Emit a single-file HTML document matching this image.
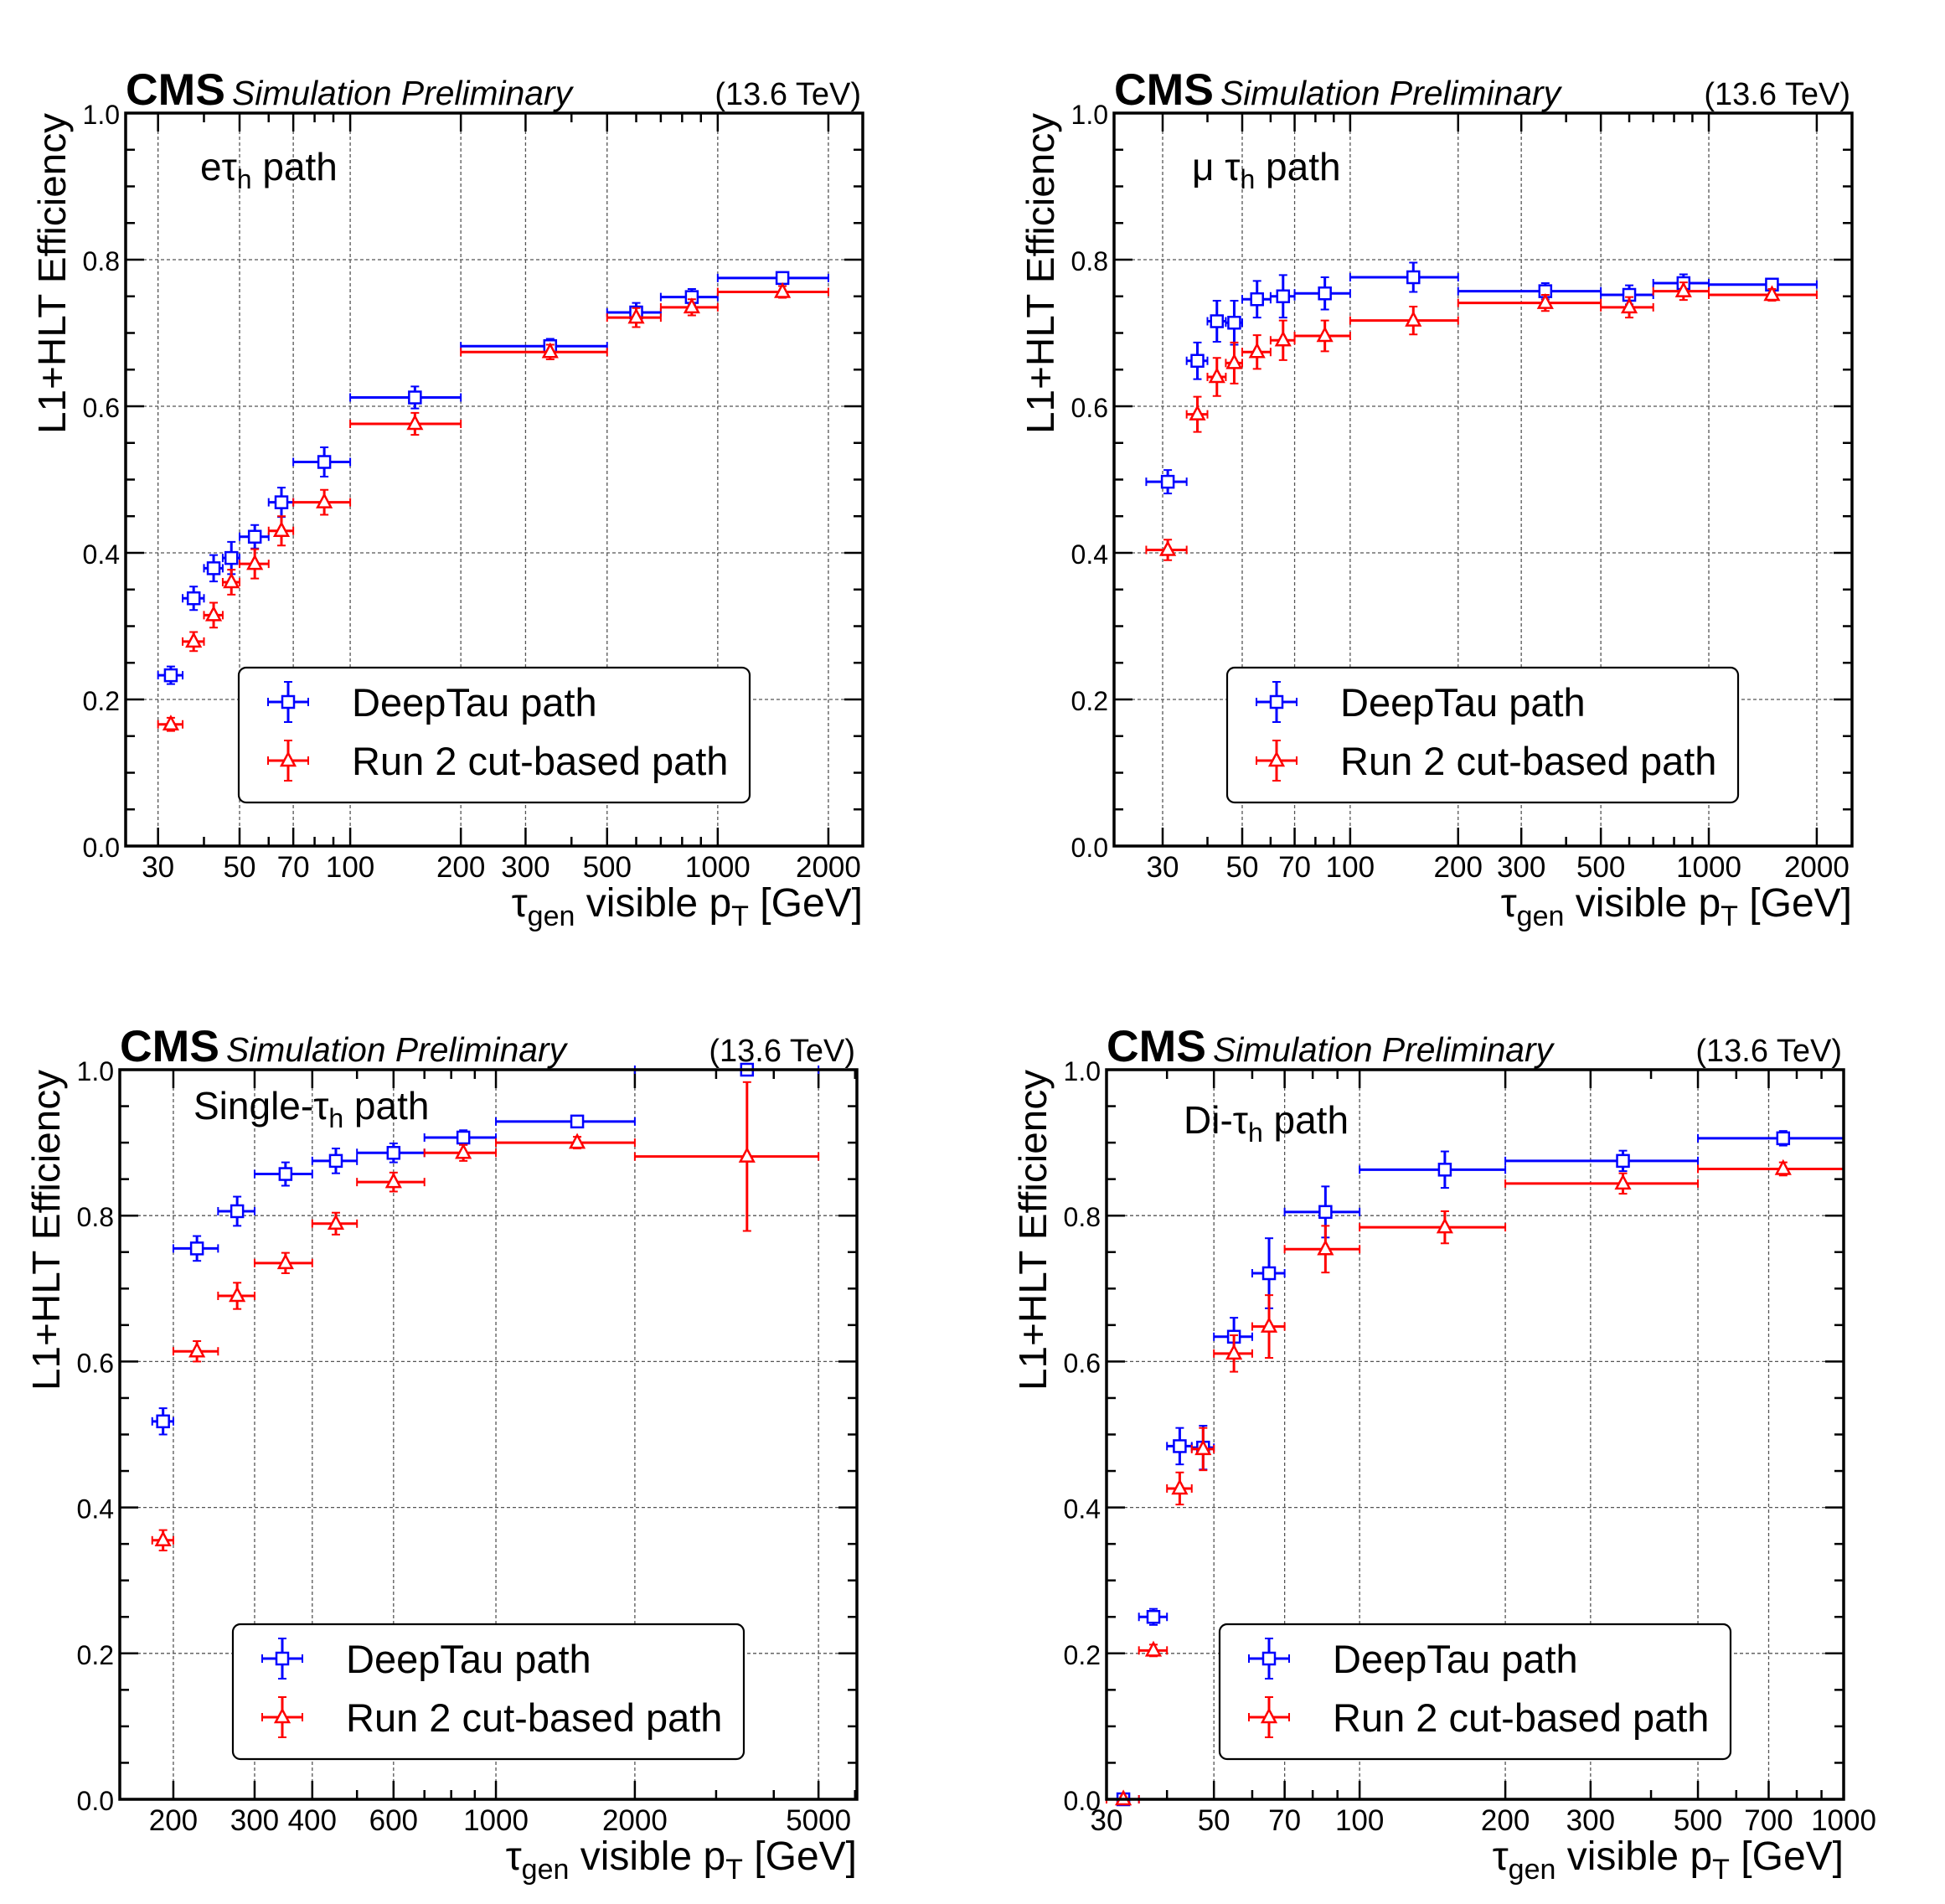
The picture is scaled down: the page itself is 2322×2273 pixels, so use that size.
<!DOCTYPE html>
<html><head><meta charset="utf-8"><title>CMS L1+HLT efficiency</title>
<style>html,body{margin:0;padding:0;background:#fff}svg{display:block}text{font-family:"Liberation Sans",Arial,sans-serif}</style>
</head><body>
<svg id="fig" width="2322" height="2273" viewBox="0 0 2322 2273" xmlns="http://www.w3.org/2000/svg"></svg>
<script>
// ---------- data: e-tau path ----------
const etauBinLo = [30,35,40,45,50,60,70,100,200,500,700,1000];
const etauBinHi = [35,40,45,50,60,70,100,200,500,700,1000,2000];
const etauDeepY = [0.233,0.338,0.379,0.393,0.422,0.469,0.524,0.612,0.682,0.728,0.749,0.775];
const etauDeepErr = [0.012,0.016,0.018,0.022,0.016,0.02,0.02,0.015,0.01,0.013,0.011,0.008];
const etauRun2Y = [0.166,0.279,0.315,0.360,0.385,0.430,0.469,0.576,0.674,0.721,0.735,0.756];
const etauRun2Err = [0.009,0.013,0.017,0.017,0.02,0.02,0.017,0.015,0.01,0.013,0.011,0.008];
// ---------- data: mu-tau path ----------
const mutauBinLo = [27,35,40,45,50,60,70,100,200,500,700,1000];
const mutauBinHi = [35,40,45,50,60,70,100,200,500,700,1000,2000];
const mutauDeepY = [0.497,0.662,0.716,0.714,0.746,0.750,0.754,0.776,0.757,0.752,0.768,0.766];
const mutauDeepErr = [0.016,0.025,0.028,0.030,0.025,0.029,0.022,0.020,0.011,0.013,0.012,0.007];
const mutauRun2Y = [0.404,0.589,0.640,0.659,0.674,0.690,0.696,0.717,0.741,0.735,0.757,0.752];
const mutauRun2Err = [0.014,0.024,0.026,0.028,0.023,0.027,0.021,0.019,0.011,0.014,0.012,0.008];
// ---------- data: single-tau path ----------
const singleBinLo = [180,200,250,300,400,500,700,1000,2000];
const singleBinHi = [200,250,300,400,500,700,1000,2000,5000];
const singleDeepY = [0.518,0.755,0.806,0.857,0.875,0.886,0.907,0.929,1.0];
const singleDeepErr = [0.018,0.017,0.020,0.016,0.017,0.013,0.010,0.005,0.004];
const singleRun2Y = [0.355,0.614,0.690,0.735,0.789,0.846,0.886,0.900,0.881];
const singleRun2Err = [0.014,0.014,0.018,0.014,0.015,0.013,0.011,0.008,0.102];
// ---------- data: di-tau path ----------
const ditauBinLo = [30,35,40,45,50,60,70,100,200,500];
const ditauBinHi = [35,40,45,50,60,70,100,200,500,1000];
const ditauDeepY = [0.0,0.250,0.484,0.482,0.634,0.721,0.805,0.863,0.875,0.906];
const ditauDeepErr = [0.0,0.011,0.025,0.030,0.026,0.048,0.035,0.025,0.014,0.010];
const ditauRun2Y = [0.0,0.204,0.426,0.480,0.611,0.648,0.754,0.784,0.844,0.864];
const ditauRun2Err = [0.0,0.008,0.022,0.029,0.025,0.043,0.032,0.022,0.014,0.009];
// ---------- axis tick labels ----------
const yTickLabels = ["0.0","0.2","0.4","0.6","0.8","1.0"];
const xLabelsMain = [30,50,70,100,200,300,500,1000,2000];
const xLabelsSingle = [200,300,400,600,1000,2000,5000];
const xLabelsDi = [30,50,70,100,200,300,500,700,1000];

const NS = "http://www.w3.org/2000/svg";
const svg = document.getElementById('fig');
function mk(tag, attrs, parent){const e=document.createElementNS(NS,tag);for(const k in attrs)e.setAttribute(k,attrs[k]);(parent||svg).appendChild(e);return e;}

const plots = [
 {key:'etau', L:150,R:1030,T:135,B:1010, xmin:24.49,xmax:2481, labels:xLabelsMain, lab:[89,80], pre:'e', mid:'τ', post:' path', lo:etauBinLo,hi:etauBinHi,dy:etauDeepY,de:etauDeepErr,ry:etauRun2Y,re:etauRun2Err},
 {key:'mutau', L:1330,R:2211,T:135,B:1010, xmin:21.96,xmax:2508, labels:xLabelsMain, lab:[93,80], pre:'μ ', mid:'τ', post:' path', lo:mutauBinLo,hi:mutauBinHi,dy:mutauDeepY,de:mutauDeepErr,ry:mutauRun2Y,re:mutauRun2Err},
 {key:'single', L:143,R:1023,T:1277,B:2148, xmin:153.1,xmax:6056, labels:xLabelsSingle, lab:[88,59], pre:'Single-', mid:'τ', post:' path', lo:singleBinLo,hi:singleBinHi,dy:singleDeepY,de:singleDeepErr,ry:singleRun2Y,re:singleRun2Err},
 {key:'ditau', L:1321,R:2201,T:1277,B:2148, xmin:30,xmax:1000, labels:xLabelsDi, lab:[92,76], pre:'Di-', mid:'τ', post:' path', lo:ditauBinLo,hi:ditauBinHi,dy:ditauDeepY,de:ditauDeepErr,ry:ditauRun2Y,re:ditauRun2Err}
];

function errPoint(g, cx, cy, x1, x2, ey1, ey2, color, shape){
  const sw=3;
  mk('line',{x1:x1,y1:cy,x2:x2,y2:cy,stroke:color,'stroke-width':sw},g);
  mk('line',{x1:x1,y1:cy-5,x2:x1,y2:cy+5,stroke:color,'stroke-width':2},g);
  mk('line',{x1:x2,y1:cy-5,x2:x2,y2:cy+5,stroke:color,'stroke-width':2},g);
  if(Math.abs(ey2-ey1)>1){
    mk('line',{x1:cx,y1:ey1,x2:cx,y2:ey2,stroke:color,'stroke-width':sw},g);
    mk('line',{x1:cx-5,y1:ey1,x2:cx+5,y2:ey1,stroke:color,'stroke-width':2},g);
    mk('line',{x1:cx-5,y1:ey2,x2:cx+5,y2:ey2,stroke:color,'stroke-width':2},g);
  }
  if(shape==='sq'){
    mk('rect',{x:cx-7,y:cy-7,width:14,height:14,fill:'#fff',stroke:color,'stroke-width':2.5},g);
  } else {
    mk('polygon',{points:`${cx},${cy-9} ${cx+8},${cy+6} ${cx-8},${cy+6}`,fill:'#fff',stroke:color,'stroke-width':2.5},g);
  }
}

plots.forEach(p=>{
  const g = mk('g',{});
  
  
  const lx0=Math.log10(p.xmin), lx1=Math.log10(p.xmax);
  const X = v => p.L + (Math.log10(v)-lx0)/(lx1-lx0)*(p.R-p.L);
  const Y = v => p.B - v*(p.B-p.T);

  const grid = mk('g',{},g);
  
  
  for(let i=1;i<5;i++){
    const y=Y(i*0.2);
    mk('line',{x1:p.L,y1:y,x2:p.R,y2:y,stroke:'#555','stroke-width':1.3,'stroke-dasharray':'4,3'},grid);
  }
  p.labels.forEach(v=>{
    const x=X(v); if(x<=p.L+1||x>=p.R-1) return;
    mk('line',{x1:x,y1:p.T,x2:x,y2:p.B,stroke:'#555','stroke-width':1.3,'stroke-dasharray':'4,3'},grid);
  });

  const ticks = mk('g',{},g);
  
  
  for(let i=0;i<=20;i++){
    const y=Y(i*0.05), len=(i%4===0)?22:11;
    mk('line',{x1:p.L,y1:y,x2:p.L+len,y2:y,stroke:'#000','stroke-width':2.5},ticks);
    mk('line',{x1:p.R,y1:y,x2:p.R-len,y2:y,stroke:'#000','stroke-width':2.5},ticks);
  }
  for(let e=1;e<=4;e++){
    for(let m=1;m<=9;m++){
      const v=m*Math.pow(10,e);
      if(v<p.xmin||v>p.xmax) continue;
      const x=X(v), len=p.labels.includes(v)?22:11;
      mk('line',{x1:x,y1:p.B,x2:x,y2:p.B-len,stroke:'#000','stroke-width':2.5},ticks);
      mk('line',{x1:x,y1:p.T,x2:x,y2:p.T+len,stroke:'#000','stroke-width':2.5},ticks);
    }
  }

  const sD = mk('g',{},g);
  
  
  p.dy.forEach((v,i)=>{
    const cx=X((p.lo[i]+p.hi[i])/2);
    errPoint(sD,cx,Y(v),X(p.lo[i]),X(p.hi[i]),Y(Math.min(1,v+p.de[i])),Y(v-p.de[i]),'#0000ff','sq');
  });
  const sR = mk('g',{},g);
  
  
  p.ry.forEach((v,i)=>{
    const cx=X((p.lo[i]+p.hi[i])/2);
    errPoint(sR,cx,Y(v),X(p.lo[i]),X(p.hi[i]),Y(Math.min(1,v+p.re[i])),Y(v-p.re[i]),'#ff0000','tri');
  });

  const fr = mk('rect',{x:p.L,y:p.T,width:p.R-p.L,height:p.B-p.T,fill:'none',stroke:'#000','stroke-width':3.5},g);
  
  

  yTickLabels.forEach((s,i)=>{
    const t=mk('text',{x:p.L-7,y:Y(i*0.2)+13,'font-size':32,'text-anchor':'end'},g);
    t.textContent=s;
    
    
  });
  p.labels.forEach(v=>{
    const t=mk('text',{x:X(v),y:p.B+37,'font-size':35,'text-anchor':'middle'},g);
    t.textContent=String(v);
    
    
  });

  const xt=mk('text',{x:p.R,y:p.B+84,'font-size':48,'text-anchor':'end'},g);
  
  
  xt.innerHTML='τ<tspan font-size="34" dy="11">gen</tspan><tspan dy="-11"> visible p</tspan><tspan font-size="34" dy="11">T</tspan><tspan dy="-11"> [GeV]</tspan>';
  const yt=mk('text',{x:0,y:0,'font-size':46,'text-anchor':'end',transform:`translate(${p.L-72},${p.T}) rotate(-90)`,textLength:383,lengthAdjust:'spacingAndGlyphs'},g);
  yt.textContent='L1+HLT Efficiency';
  
  

  const cms=mk('text',{x:p.L,y:p.T-10,'font-size':53,'font-weight':'bold',textLength:119,lengthAdjust:'spacingAndGlyphs'},g);
  cms.textContent='CMS';
  
  
  const sim=mk('text',{x:p.L+127,y:p.T-10,'font-size':41,'font-style':'italic',textLength:406,lengthAdjust:'spacingAndGlyphs'},g);
  sim.textContent='Simulation Preliminary';
  
  
  const en=mk('text',{x:p.R-2,y:p.T-10,'font-size':38,'text-anchor':'end'},g);
  en.textContent='(13.6 TeV)';
  
  

  const pl=mk('text',{x:p.L+p.lab[0],y:p.T+p.lab[1],'font-size':46},g);
  
  
  pl.innerHTML=`${p.pre}${p.mid}<tspan font-size="32" dy="10">h</tspan><tspan dy="-10">${p.post}</tspan>`;

  const lg=mk('g',{},g);
  
  
  mk('rect',{x:p.L+135,y:p.T+662,width:610,height:161,rx:9,ry:9,fill:'#fff',stroke:'#000','stroke-width':2.2},lg);
  const mx=p.L+194, r1=p.T+703, r2=p.T+773;
  const le1=mk('g',{},lg);
  
  
  errPoint(le1,mx,r1,mx-24,mx+24,r1-24,r1+24,'#0000ff','sq');
  const t1=mk('text',{x:p.L+270,y:r1+17,'font-size':47},le1); t1.textContent='DeepTau path';
  const le2=mk('g',{},lg);
  
  
  errPoint(le2,mx,r2,mx-24,mx+24,r2-24,r2+24,'#ff0000','tri');
  const t2=mk('text',{x:p.L+270,y:r2+17,'font-size':47},le2); t2.textContent='Run 2 cut-based path';
});
</script>
</body></html>
